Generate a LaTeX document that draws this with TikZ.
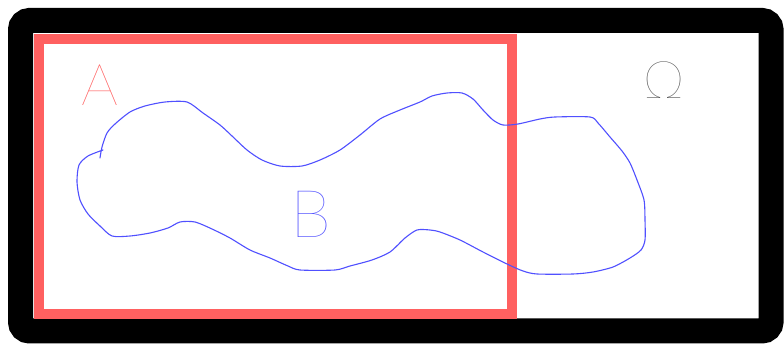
\documentclass[tikz,border=0pt]{standalone}
\usepackage{fontspec}
\IfFontExistsTF{Lato Thin}{\newfontfamily\handfont{Lato Thin}}{\newfontfamily\handfont{Lato Light}}
\definecolor{frameblack}{HTML}{000000}
\definecolor{setred}{HTML}{FF6060}
\definecolor{letterred}{HTML}{FF5A5A}
\definecolor{blobblue}{HTML}{5050FF}
\definecolor{omegagrey}{HTML}{555555}
\tikzset{
  frame/.style={draw=frameblack, line width=25pt, rounded corners=9pt},
  seta/.style={draw=setred, line width=10pt},
  blob/.style={draw=blobblue, line width=1.1pt, line join=round, line cap=round},
  lettr/.style={inner sep=0pt, font=\handfont},
}
\begin{document}
\begin{tikzpicture}[x=1pt,y=-1pt]
\useasboundingbox (0,0) rectangle (784,344);
\fill[white] (0,0) rectangle (784,344);
\draw[frame] (20.5,20.5) rectangle (771,331);
\draw[seta] (39,39) rectangle (512,314);
\draw[blob] plot[smooth, tension=0.45] coordinates {
(100,158) (102,147) (107,133) (115,124) (130,112) (145,106) (165,102) (187,102)
(203,113) (220,125) (232,136) (247,150) (262,160) (280,166) (302,166) (320,160)
(340,150) (360,135) (380,119) (400,110) (420,102) (432,96) (447,93) (462,93)
(473,99) (483,110) (493,120) (503,125) (518,124) (540,119) (555,117) (590,117)
(598,123) (610,137) (622,151) (630,163) (637,180) (644,200) (645,220) (645,240)
(641,250) (630,258) (613,267) (593,272) (573,274) (537,274) (523,271) (507,264)
(483,252) (460,240) (440,232) (430,230) (417,230) (405,238) (390,252) (372,260)
(350,266) (335,270) (300,270) (288,266) (270,258) (250,250) (230,238) (212,229)
(195,222) (180,222) (168,228) (150,233) (130,236) (112,236) (100,226) (88,214)
(80,200) (77,182) (79,165) (88,156) (103,150)};
\node[lettr, text=letterred, font=\handfont\fontsize{58}{60}\selectfont] (A) at (100,85) {A};
\node[lettr, text=blobblue, font=\handfont\fontsize{66}{68}\selectfont] (B) at (311,214) {B};
\node[lettr, text=omegagrey, font=\handfont\fontsize{52}{54}\selectfont] (O) at (664,80) {Ω};
\end{tikzpicture}
\end{document}
